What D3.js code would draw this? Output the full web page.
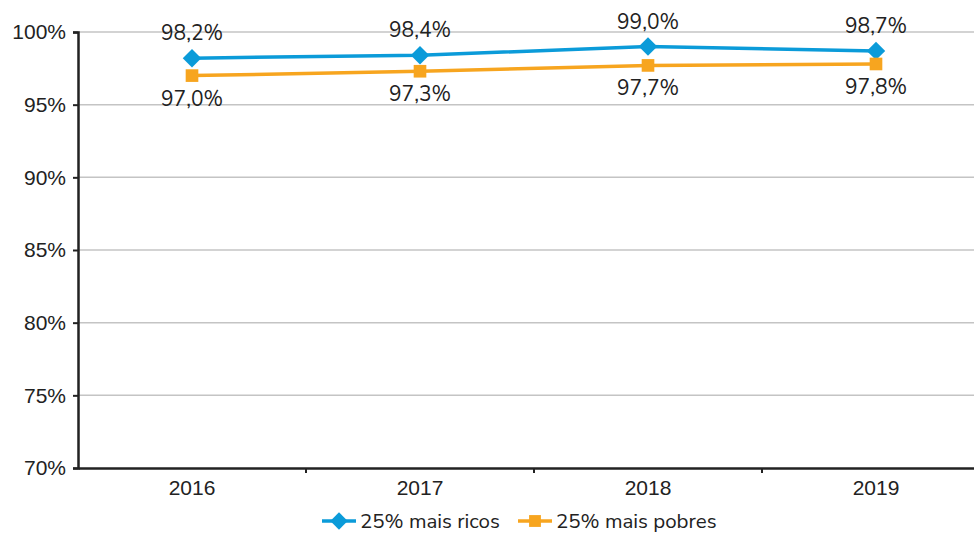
<!DOCTYPE html>
<html>
<head>
<meta charset="utf-8">
<script src="https://cdn.jsdelivr.net/npm/d3@7"></script>
<style>
  body { margin: 0; background: #fff; }
  svg { display: block; font-family: "Nunito Sans", Lato, "Open Sans", sans-serif; }
</style>
</head>
<body>
<div id="chart"></div>
<script>
// data
const years = ["2016", "2017", "2018", "2019"];
const ricos = [98.2, 98.4, 99.0, 98.7];
const pobres = [97.0, 97.3, 97.7, 97.8];
const yTicks = [70, 75, 80, 85, 90, 95, 100];

const width = 974, height = 536;
const margin = { top: 32, left: 78, bottom: 68 };
// the plot runs a little past the right edge of the image
const plotRight = 990;

const svg = d3.select("#chart")
  .append("svg")
  .attr("width", width)
  .attr("height", height);

const x = d3.scaleBand().domain(years).range([margin.left, plotRight]);
const y = d3.scaleLinear().domain([70, 100]).range([height - margin.bottom, margin.top]);

const blue = "#0b9bd9";
const orange = "#f7a51f";

// diamond = square turned 45 degrees, wider than d3's own diamond
const diamond = { draw(ctx, size) { const r = Math.sqrt(size / 2); ctx.moveTo(0, -r); ctx.lineTo(r, 0); ctx.lineTo(0, r); ctx.lineTo(-r, 0); ctx.closePath(); } };

//gridlines
svg.append("g")
  .selectAll("line")
  .data(yTicks.filter((d) => d > 70))
  .enter()
  .append("line")
  .attr("x1", margin.left)
  .attr("x2", width)
  .attr("y1", (d) => y(d))
  .attr("y2", (d) => y(d))
  .attr("stroke", "#c4c4c4")
  .attr("stroke-width", 1.5);

//y axis
const yAxis = svg.append("g")
  .attr("transform", `translate(${margin.left},0)`)
  .call(d3.axisLeft(y).tickValues(yTicks).tickSize(5).tickPadding(7).tickFormat((d) => d + "%"));
yAxis.select(".domain").attr("stroke", "#222").attr("stroke-width", 2.5);
yAxis.selectAll(".tick line").attr("stroke", "#222").attr("stroke-width", 2);
yAxis.selectAll("text").attr("font-size", 21).attr("fill", "#222");

//x axis
const xAxis = svg.append("g")
  .attr("transform", `translate(0,${y(70)})`)
  .call(d3.axisBottom(x).tickSize(0).tickPadding(12));
xAxis.select(".domain").attr("stroke", "#222").attr("stroke-width", 2.5);
xAxis.selectAll("text").attr("font-size", 21).attr("fill", "#222");

// small ticks between the categories
svg.append("g")
  .selectAll("line")
  .data(years.slice(1))
  .enter()
  .append("line")
  .attr("x1", (d) => x(d))
  .attr("x2", (d) => x(d))
  .attr("y1", y(70))
  .attr("y2", y(70) + 5)
  .attr("stroke", "#222")
  .attr("stroke-width", 2);

const cx = (d, i) => x(years[i]) + x.bandwidth() / 2;
const line = d3.line().x(cx).y((d) => y(d));
const fmt = (v) => v.toFixed(1).replace(".", ",") + "%";

function drawSeries(values, color, shape, labelDy) {
  svg.append("path")
    .datum(values)
    .attr("d", line)
    .attr("fill", "none")
    .attr("stroke", color)
    .attr("stroke-width", 3.5);

  svg.append("g")
    .selectAll("path")
    .data(values)
    .enter()
    .append("path")
    .attr("d", d3.symbol().type(shape).size(shape === d3.symbolSquare ? 160 : 170))
    .attr("transform", (d, i) => `translate(${cx(d, i)},${y(d)})`)
    .attr("fill", color);

  svg.append("g")
    .selectAll("text")
    .data(values)
    .enter()
    .append("text")
    .attr("x", cx)
    .attr("y", (d) => y(d) + labelDy)
    .attr("text-anchor", "middle")
    .attr("dominant-baseline", "central")
    .attr("font-size", 21)
    .attr("fill", "#222")
    .text(fmt);
}

drawSeries(ricos, blue, diamond, -25);
drawSeries(pobres, orange, d3.symbolSquare, 23);

//legend
const legend = [
  { name: "25% mais ricos", color: blue, shape: diamond, x: 322 },
  { name: "25% mais pobres", color: orange, shape: d3.symbolSquare, x: 518 }
];
const ly = 521;
const items = svg.append("g")
  .selectAll("g")
  .data(legend)
  .enter()
  .append("g")
  .attr("transform", (d) => `translate(${d.x},${ly})`);
items.append("line")
  .attr("x1", 0).attr("x2", 34)
  .attr("stroke", (d) => d.color)
  .attr("stroke-width", 3.5);
items.append("path")
  .attr("d", (d) => d3.symbol().type(d.shape).size(d.shape === d3.symbolSquare ? 140 : 150)())
  .attr("transform", "translate(17,0)")
  .attr("fill", (d) => d.color);
items.append("text")
  .attr("x", 38)
  .attr("dominant-baseline", "central")
  .attr("font-size", 20.5)
  .attr("fill", "#222")
  .text((d) => d.name);
</script>
</body>
</html>
